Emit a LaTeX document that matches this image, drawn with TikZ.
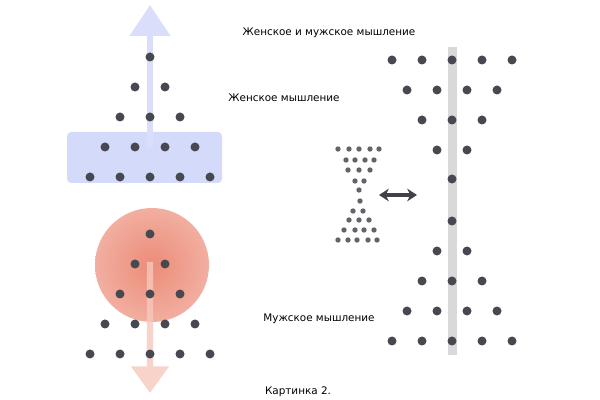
\documentclass[tikz,border=0pt]{standalone}
\usepackage{fontspec}
\setmainfont{DejaVu Sans}
\usetikzlibrary{arrows.meta}

\definecolor{womanblue}{RGB}{212,218,249}
\definecolor{womanarrow}{RGB}{218,222,250}
\definecolor{manred}{RGB}{236,140,120}
\definecolor{manarrow}{RGB}{246,200,188}
\definecolor{dotgray}{RGB}{72,72,80}

\tikzset{
    bigdot/.style={circle,fill=dotgray,inner sep=0pt,minimum size=6.4pt},
    smalldot/.style={circle,fill=dotgray!85,inner sep=0pt,minimum size=3.8pt},
    caption/.style={inner sep=1pt,font=\fontsize{7.4}{9}\selectfont}
}

\begin{document}
\begin{tikzpicture}[x=0.025cm,y=-0.025cm]
    \useasboundingbox (0,0) rectangle (600,400);

    % women: blue box and arrow up
    \fill[womanblue,rounded corners=3pt] (67,132) rectangle (222,183);
    \coordinate (wstart) at (150,148);
    \coordinate (wend) at (150,5);
    \draw[womanarrow,line width=4.5pt,-{Triangle[width=28pt,length=22pt]}] (wstart) -- (wend);

    % men: red blob and arrow down
    \shade[inner color=manred,outer color=manred!70] (152,265) circle (57);
    \coordinate (mstart) at (150,262);
    \coordinate (mend) at (150,393);
    \begin{scope}[transparency group,opacity=0.8]
        \draw[manarrow,line width=4.5pt,-{Triangle[width=26pt,length=19pt]}] (mstart) -- (mend);
    \end{scope}

    % two triangles of dots
    \foreach \row in {1,...,5} {
        \begin{scope}[yshift=-30*(\row-1)*0.025cm]
            \foreach \col in {1,...,\row} {
                \node[bigdot] (w\row\col) at ({150-15*(\row-1)+30*(\col-1)},57) {};
                \node[bigdot] (m\row\col) at ({150-15*(\row-1)+30*(\col-1)},234) {};
            }
        \end{scope}
    }

    % right: grey axis
    \fill[gray!30] (448,47) rectangle (457,355);
    \foreach \y/\n in {60/5, 90/4, 120/3, 150/2, 179/1} {
        \foreach \k in {1,...,\n} {
            \node[bigdot] (t\y\k) at ({452-15*(\n-1)+30*(\k-1)},\y) {};
        }
    }
    \foreach \y/\n in {221/1, 251/2, 281/3, 311/4, 341/5} {
        \foreach \k in {1,...,\n} {
            \node[bigdot] (b\y\k) at ({452-15*(\n-1)+30*(\k-1)},\y) {};
        }
    }

    % hourglass
    \foreach \y/\xs in {149/{338,349,359,370,379}, 160/{346,355,365,374}, 170/{348,359,370},
                        181/{355,364}, 190/{359}, 201/{360}, 211/{353,363},
                        220/{349,359,369}, 230/{344,355,364,374}, 240/{338,348,357,368,377}} {
        \foreach \x in \xs {
            \node[smalldot] (h\y\x) at (\x,\y) {};
        }
    }
    \coordinate (hg) at (379,195);
    \coordinate (ax) at (417,195);
    \draw[dotgray!90!black,line width=2.6pt,{Stealth[length=7pt,width=9pt]}-{Stealth[length=7pt,width=9pt]}] (hg) -- (ax);

    % labels
    \node[caption] (both) at (329,33) {Женское и мужское мышление};
    \node[caption] (women) at (284,98) {Женское мышление};
    \node[caption] (men) at (319,319) {Мужское мышление};
    \node[caption] (pic) at (298,392) {Картинка 2.};
\end{tikzpicture}
\end{document}
